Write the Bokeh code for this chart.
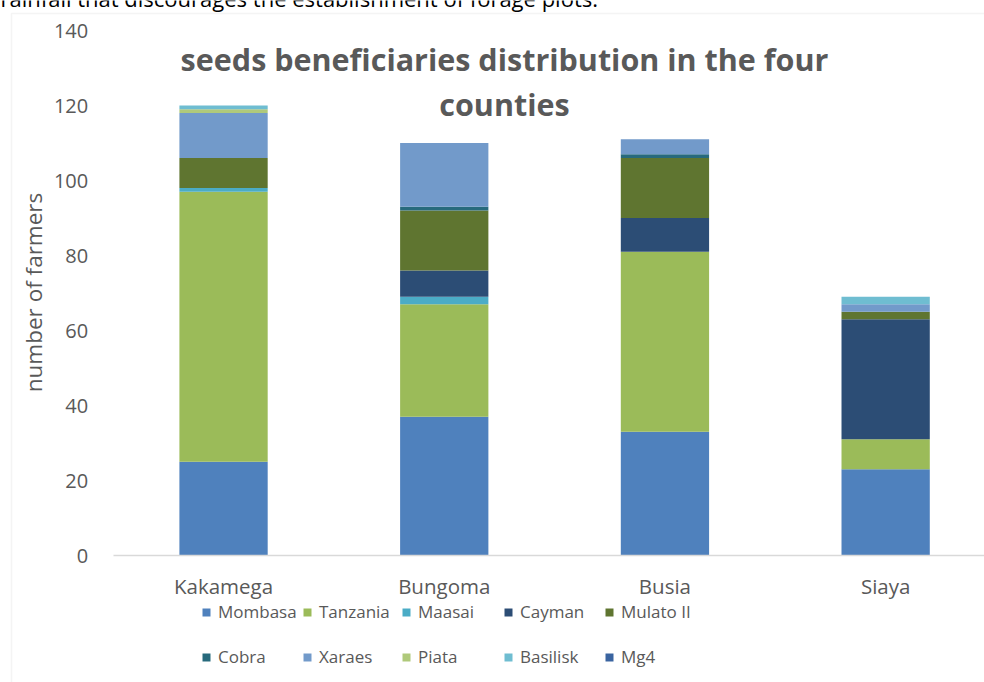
import math
from bokeh.plotting import figure
from bokeh.models import Range1d, FixedTicker, Legend, LegendItem, Label, BoxAnnotation
from bokeh.embed import file_html
from bokeh.resources import INLINE

counties = ["Kakamega", "Bungoma", "Busia", "Siaya"]
varieties = ["Mombasa", "Tanzania", "Maasai", "Cayman", "Mulato II",
             "Cobra", "Xaraes", "Piata", "Basilisk", "Mg4"]
mombasa = [25, 37, 33, 23]
tanzania = [72, 30, 48, 8]
maasai = [1, 2, 0, 0]
cayman = [0, 7, 9, 32]
mulato_ii = [8, 16, 16, 2]
cobra = [0, 1, 1, 0]
xaraes = [12, 17, 4, 2]
piata = [1, 0, 0, 0]
basilisk = [1, 0, 0, 2]
mg4 = [0, 0, 0, 0]
y_ticks = [0, 20, 40, 60, 80, 100, 120, 140]

colors = ["#4F81BD", "#9BBB59", "#4BACC6", "#2C4D75", "#5F7530",
          "#276A7C", "#729ACA", "#AFC97A", "#6FBDD1", "#3A64A0"]

series = [mombasa, tanzania, maasai, cayman, mulato_ii,
          cobra, xaraes, piata, basilisk, mg4]

FONT = "Open Sans"
GREY = "#595959"
W, H = 984, 682

# pixel geometry of the plot area inside the canvas
PX_LEFT, PX_BAND = 112.7, 220.7         # first category band start, band width
PX_ZERO, PX_PER_UNIT = 555.0, 3.75       # y=0 pixel row, pixels per farmer

xpos = [i + 0.5 for i in range(len(counties))]
data = {"x": xpos}
for name, vals in zip(varieties, series):
    data[name] = vals

x_range = Range1d(-PX_LEFT / PX_BAND, (W - PX_LEFT) / PX_BAND)
y_range = Range1d(-(H - PX_ZERO) / PX_PER_UNIT, PX_ZERO / PX_PER_UNIT)

p = figure(width=W, height=H, output_backend="svg", toolbar_location=None,
           x_range=x_range, y_range=y_range,
           min_border_left=0, min_border_right=0, min_border_top=0,
           min_border_bottom=0)
p.outline_line_color = None
p.background_fill_color = "white"
p.border_fill_color = "white"
p.xgrid.visible = False
p.ygrid.visible = False

renderers = p.vbar_stack(varieties, x="x", width=0.4, source=data,
                         color=colors, line_color=None)

# axes, fixed inside the canvas
p.yaxis.fixed_location = 0
p.yaxis.ticker = FixedTicker(ticks=y_ticks)
p.yaxis.axis_line_color = None
p.yaxis.major_tick_line_color = None
p.yaxis.minor_tick_line_color = None
p.yaxis.major_label_text_font = FONT
p.yaxis.major_label_text_font_size = "20px"
p.yaxis.major_label_text_color = GREY
p.yaxis.major_label_standoff = 19

p.xaxis.fixed_location = 0
p.xaxis.bounds = (0, len(counties))
p.xaxis.ticker = FixedTicker(ticks=xpos)
p.xaxis.major_label_overrides = {x: c for x, c in zip(xpos, counties)}
p.xaxis.axis_line_color = "#D9D9D9"
p.xaxis.axis_line_width = 1.5
p.xaxis.major_tick_line_color = None
p.xaxis.minor_tick_line_color = None
p.xaxis.major_label_text_font = FONT
p.xaxis.major_label_text_font_size = "20.5px"
p.xaxis.major_label_text_color = GREY
p.xaxis.major_label_standoff = 10

# chart border
p.add_layout(BoxAnnotation(left=11, right=W + 100, top=H - 13, bottom=-100,
                           left_units="screen", right_units="screen",
                           top_units="screen", bottom_units="screen",
                           fill_alpha=0, line_color="#D9D9D9", line_width=1.5))

# cut text above chart
p.add_layout(Label(x=0, y=H + 3, x_units="screen", y_units="screen",
                   text="rainfall that discourages the establishment of forage plots.",
                   text_font=FONT, text_font_size="22px", text_color="black",
                   text_baseline="alphabetic"))

# title
for txt, yc in [("seeds beneficiaries distribution in the four", 58), ("counties", 103)]:
    p.add_layout(Label(x=504, y=H - yc, x_units="screen", y_units="screen",
                       text=txt, text_font=FONT, text_font_size="30.5px",
                       text_font_style="bold", text_color=GREY,
                       text_align="center", text_baseline="middle"))

# y-axis title
p.add_layout(Label(x=33, y=H - 292, x_units="screen", y_units="screen",
                   text="number of farmers", angle=math.pi / 2,
                   text_font=FONT, text_font_size="22.5px", text_color=GREY,
                   text_align="center", text_baseline="middle"))

# legend: 5 columns x 2 rows
col_x = [201, 302, 401, 503, 604]
for col in range(5):
    items = [LegendItem(label=varieties[col], renderers=[renderers[col]]),
             LegendItem(label=varieties[col + 5], renderers=[renderers[col + 5]])]
    lg = Legend(items=items, orientation="vertical",
                location=(col_x[col], H - 668),
                glyph_width=10, glyph_height=10, label_height=20,
                label_standoff=7, spacing=22, padding=0, margin=0,
                border_line_color=None, background_fill_alpha=0,
                label_text_font=FONT, label_text_font_size="17px",
                label_text_color=GREY)
    p.add_layout(lg, "center")

open("out.html", "w").write(file_html(p, INLINE))
